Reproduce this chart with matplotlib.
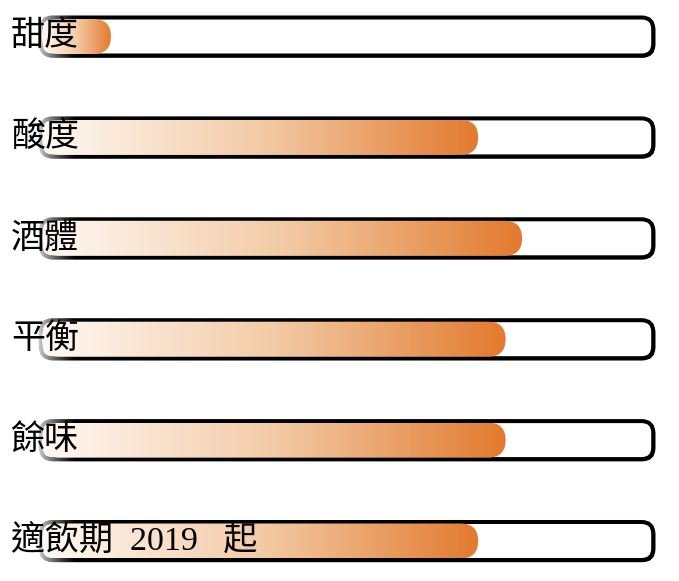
import numpy as np
import matplotlib
matplotlib.use('Agg')
import matplotlib.pyplot as plt
from matplotlib.patches import FancyBboxPatch
from matplotlib.colors import LinearSegmentedColormap

# ── Data ─────────────────────────────────────────────────────────────────────
labels = ['甜度', '酸度', '酒體', '平衡', '餘味', '適飲期  2019   起']
values = [11.3, 71.5, 78.7, 76.0, 76.0, 71.5]
full_scale = 100.0

# ── Geometry (pixels at dpi 100) ────────────────────────────────────────────
W, H, DPI = 679, 581, 100
PX_X = 6.1          # pixels per value unit
X0_PX = 42          # pixel of value 0
ROW_PX = 100.9      # pixels per row
Y0_PX = 36.5        # pixel of first row centre

FILL_H = 35 / ROW_PX
OUTLINE_H = 38 / ROW_PX
ASPECT = PX_X / ROW_PX   # mutation_aspect for round corners

cmap = LinearSegmentedColormap.from_list('bar', ['#FFF9F4', '#F3CBA6', '#E27A2E'])

fig = plt.figure(figsize=(W / DPI, H / DPI), dpi=DPI)
ax = fig.add_axes([0, 0, 1, 1])
ax.axis('off')

xlim = (-X0_PX / PX_X, (W - X0_PX) / PX_X)
ylim = ((H - Y0_PX) / ROW_PX, -Y0_PX / ROW_PX)

fade = np.ones((1, 64, 4))
fade[..., 3] = np.linspace(0.92, 0.0, 64) ** 1.3

for i, (lab, v) in enumerate(zip(labels, values)):
    # outline
    outline = FancyBboxPatch((-0.2, i - OUTLINE_H / 2), full_scale + 0.4, OUTLINE_H,
                             boxstyle='round,pad=0,rounding_size=1.9',
                             mutation_aspect=ASPECT, facecolor='white',
                             edgecolor='black', linewidth=2.9, zorder=2)
    ax.add_patch(outline)
    # shadow edge on bottom / right
    shadow = FancyBboxPatch((-0.2 + 0.12, i - OUTLINE_H / 2 + 0.008), full_scale + 0.4,
                            OUTLINE_H, boxstyle='round,pad=0,rounding_size=1.9',
                            mutation_aspect=ASPECT, facecolor='none',
                            edgecolor='black', linewidth=2.0, zorder=1.9)
    ax.add_patch(shadow)

    # fade the left end of the outline
    ax.imshow(fade, extent=[-1.2, 5.6, i + 0.26, i - 0.26], aspect='auto',
              interpolation='bilinear', zorder=3)

    # gradient fill
    bar = FancyBboxPatch((0, i - FILL_H / 2), v, FILL_H,
                         boxstyle=f'round,pad=0,rounding_size={17.5 / PX_X:.3f}',
                         mutation_aspect=ASPECT, facecolor='none',
                         edgecolor='none', zorder=4)
    ax.add_patch(bar)
    grad = np.linspace(0, 1, 256).reshape(1, -1)
    im = ax.imshow(grad, cmap=cmap, extent=[0, v, i + FILL_H / 2, i - FILL_H / 2],
                   aspect='auto', interpolation='bilinear', zorder=4)
    im.set_clip_path(bar)

    ax.text(11 / W, i, lab, transform=ax.get_yaxis_transform(),
            family=['Liberation Serif', 'Noto Sans CJK TC'], fontsize=24.5,
            color='black', ha='left', va='center', zorder=6)

ax.set_xlim(*xlim)
ax.set_ylim(*ylim)

fig.savefig('out.png', dpi=DPI, facecolor='white')
